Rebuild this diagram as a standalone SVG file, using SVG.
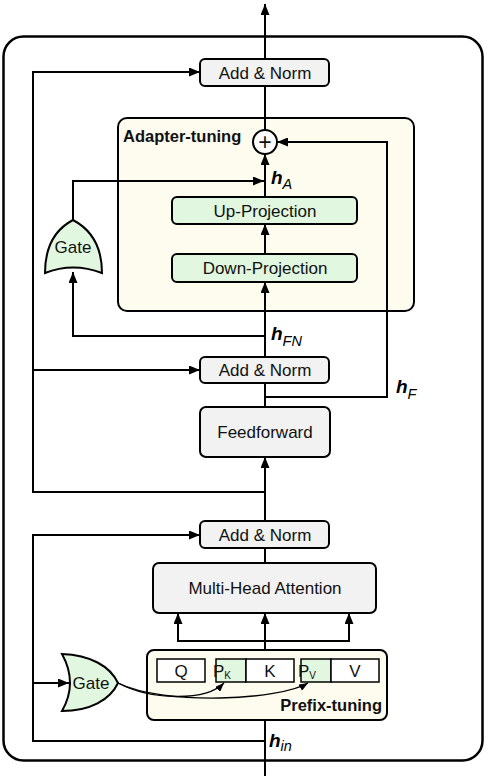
<svg xmlns="http://www.w3.org/2000/svg" width="486" height="776" viewBox="0 0 486 776">
<style>
  .box{fill:#f2f2f2;stroke:#000;stroke-width:2}
  .green{fill:#e2f7df;stroke:#000;stroke-width:2}
  .cream{fill:#fefcee;stroke:#000;stroke-width:2}
  .cell{fill:#fff;stroke:#000;stroke-width:1.5}
  .pcell{fill:#e2f7df;stroke:#000;stroke-width:1.5}
  .lbl{font-family:"Liberation Sans",Arial,sans-serif;font-size:17px;fill:#111;text-anchor:middle}
  .plus{font-family:"Liberation Sans",Arial,sans-serif;font-size:23px;fill:#111;text-anchor:middle}
  .bold{font-family:"Liberation Sans",Arial,sans-serif;font-size:16.5px;font-weight:bold;fill:#111}
  .h{font-family:"Liberation Sans",Arial,sans-serif;font-size:19px;font-weight:bold;font-style:italic;fill:#000}
  .sub{font-size:14.5px;font-weight:normal;font-style:italic}
  .ln{fill:none;stroke:#000;stroke-width:2}
  .thin{fill:none;stroke:#000;stroke-width:1.3}
</style>
<defs>
  <marker id="arr" markerUnits="userSpaceOnUse" markerWidth="11" markerHeight="9" refX="11" refY="4.5" orient="auto">
    <path d="M0,0 L11,4.5 L0,9 z" fill="#000"/>
  </marker>
  <marker id="arrs" markerUnits="userSpaceOnUse" markerWidth="9" markerHeight="7" refX="9" refY="3.5" orient="auto">
    <path d="M0,0 L9,3.5 L0,7 z" fill="#000"/>
  </marker>
</defs>

<rect id="outer" x="3.5" y="36.5" width="479" height="724" rx="20" fill="none" stroke="#000" stroke-width="2.5"/>

<g id="adapter">
  <rect class="cream" x="118" y="118" width="296" height="193" rx="9"/>
  <text class="bold" x="123" y="142">Adapter-tuning</text>
</g>

<g id="prefix">
  <rect class="cream" x="147" y="650" width="240" height="70" rx="7"/>
  <text class="bold" x="382" y="711" text-anchor="end">Prefix-tuning</text>
</g>

<g id="connectors">
  <path class="ln" d="M265,59 V4" marker-end="url(#arr)"/>
  <path class="ln" d="M265,130 V86"/>
  <path class="ln" d="M265,197 V154" marker-end="url(#arr)"/>
  <path class="ln" d="M265,254 V224" marker-end="url(#arr)"/>
  <path class="ln" d="M265,357 V282" marker-end="url(#arr)"/>
  <path class="ln" d="M265,407 V383"/>
  <path class="ln" d="M265,521 V457" marker-end="url(#arr)"/>
  <path class="ln" d="M265,563 V548"/>
  <path class="ln" d="M265,650 V613" marker-end="url(#arr)"/>
  <path class="ln" d="M178,641 H349"/>
  <path class="ln" d="M178,642 V613" marker-end="url(#arr)"/>
  <path class="ln" d="M349,642 V613" marker-end="url(#arr)"/>
  <path class="ln" d="M265,776 V720"/>
  <path class="ln" d="M265,741 H33 V535 H200" marker-end="url(#arr)"/>
  <path class="ln" d="M33,683 H69" marker-end="url(#arr)"/>
  <path class="ln" d="M265,492 H33 V72 H200" marker-end="url(#arr)"/>
  <path class="ln" d="M33,370 H200" marker-end="url(#arr)"/>
  <path class="ln" d="M265,336 H73 V272" marker-end="url(#arr)"/>
  <path class="ln" d="M73,220 V181 H264" marker-end="url(#arr)"/>
  <path class="ln" d="M265,397 H387 V142 H277" marker-end="url(#arr)"/>
  <path class="thin" d="M118,683 C150,700 205,702 224,683" marker-end="url(#arrs)"/>
  <path class="thin" d="M118,683 C165,706 280,700 308,683" marker-end="url(#arrs)"/>
</g>

<g id="plus">
  <circle cx="265" cy="142" r="12" fill="#fff" stroke="#000" stroke-width="2"/>
  <text class="plus" x="265" y="150">+</text>
</g>

<g id="addnorm-top">
  <rect class="box" x="200" y="59" width="129" height="27" rx="5"/>
  <text class="lbl" x="265" y="78.5">Add &amp; Norm</text>
</g>
<g id="up-proj">
  <rect class="green" x="172" y="197" width="185" height="27" rx="5"/>
  <text class="lbl" x="265" y="216.5">Up-Projection</text>
</g>
<g id="down-proj">
  <rect class="green" x="172" y="254" width="185" height="28" rx="5"/>
  <text class="lbl" x="265" y="274">Down-Projection</text>
</g>
<g id="addnorm-mid">
  <rect class="box" x="200" y="357" width="129" height="26" rx="5"/>
  <text class="lbl" x="265" y="376">Add &amp; Norm</text>
</g>
<g id="feedforward">
  <rect class="box" x="200" y="407" width="130" height="50" rx="6"/>
  <text class="lbl" x="265" y="438">Feedforward</text>
</g>
<g id="addnorm-bot">
  <rect class="box" x="200" y="521" width="129" height="27" rx="5"/>
  <text class="lbl" x="265" y="540.5">Add &amp; Norm</text>
</g>
<g id="mha">
  <rect class="box" x="153" y="563" width="223" height="50" rx="6"/>
  <text class="lbl" x="265" y="594">Multi-Head Attention</text>
</g>

<g id="gate-top">
  <path d="M45,273 C45,246 56,229 73,220 C90,229 102,246 102,273 Q73,262 45,273 Z" fill="#e2f7df" stroke="#000" stroke-width="2"/>
  <text class="lbl" x="73" y="253">Gate</text>
</g>
<g id="gate-bot">
  <path d="M62,654 C90,655 110,666 118,683 C110,700 90,711 62,711 Q78,683 62,654 Z" fill="#e2f7df" stroke="#000" stroke-width="2"/>
  <text class="lbl" x="91" y="689">Gate</text>
</g>

<g id="cells">
  <rect class="cell" x="157" y="659" width="48" height="23"/>
  <text class="lbl" x="181" y="677">Q</text>
  <rect class="pcell" x="216" y="659" width="30" height="23"/>
  <text class="lbl" x="222" y="677" text-anchor="start">P<tspan font-size="10" dy="2">K</tspan></text>
  <rect class="cell" x="246" y="659" width="48" height="23"/>
  <text class="lbl" x="270" y="677">K</text>
  <rect class="pcell" x="301" y="659" width="30" height="23"/>
  <text class="lbl" x="307" y="677" text-anchor="start">P<tspan font-size="10" dy="2">V</tspan></text>
  <rect class="cell" x="331" y="659" width="48" height="23"/>
  <text class="lbl" x="355" y="677">V</text>
</g>

<g id="labels">
  <text class="h" x="271" y="184">h<tspan class="sub" dy="5">A</tspan></text>
  <text class="h" x="271" y="340">h<tspan class="sub" dy="6">FN</tspan></text>
  <text class="h" x="396" y="393">h<tspan class="sub" dy="6">F</tspan></text>
  <text class="h" x="269" y="747">h<tspan class="sub" dy="4">in</tspan></text>
</g>
</svg>
